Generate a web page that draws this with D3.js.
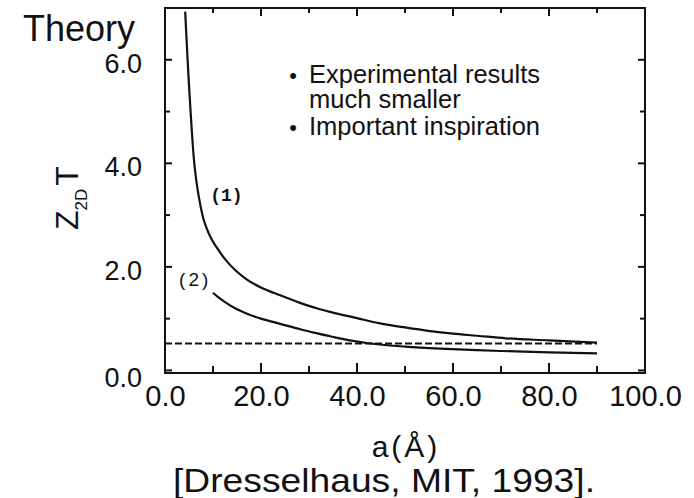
<!DOCTYPE html>
<html>
<head>
<meta charset="utf-8">
<script src="https://cdn.jsdelivr.net/npm/d3@7"></script>
<style>
  body { margin: 0; background: #fff; }
  text { font-family: "Liberation Sans", Arial, sans-serif; fill: #111; }
</style>
</head>
<body>
<svg id="chart" width="694" height="498"></svg>
<script>
// curve (1): Z2D T vs a (Å)
const a1 = [4.2, 4.6, 5.0, 5.5, 6.0, 6.5, 7.0, 7.5, 8.0, 8.7, 9.5, 10.8, 12.5, 14.6, 17, 20, 24, 28, 31.6, 34.4, 40, 44.8, 50, 55.2, 60, 65, 71, 80, 90]
const zt1 = [6.93, 6.2, 5.5, 4.75, 4.1, 3.68, 3.38, 3.13, 2.93, 2.74, 2.57, 2.37, 2.15, 1.94, 1.76, 1.6, 1.45, 1.31, 1.2, 1.13, 1.01, 0.91, 0.83, 0.76, 0.71, 0.67, 0.62, 0.58, 0.535]
// curve (2)
const a2 = [10, 11, 12.5, 15, 17.5, 20, 24, 28, 31, 34.4, 38.5, 42, 44.8, 50, 57.3, 65, 70, 80, 90]
const zt2 = [1.5, 1.42, 1.32, 1.18, 1.08, 1.0, 0.9, 0.8, 0.73, 0.66, 0.58, 0.53, 0.5, 0.46, 0.42, 0.39, 0.375, 0.35, 0.33]
// dashed reference level
const refLevel = 0.52
const refRange = [0, 90]

const xTicksMajor = [0, 20, 40, 60, 80, 100]
const xTicksMinor = [10, 30, 50, 70, 90]
const yTicksMajor = [0, 2, 4, 6]
const yTicksMinor = [1, 3, 5]
const notes = [["•", "Experimental results"], ["", "much smaller"], ["•", "Important inspiration"]]

const svg = d3.select("#chart")
const pLeft = 165, pRight = 645, pTop = 8, pBottom = 373

const x = d3.scaleLinear().domain([0, 100]).range([pLeft, pRight])
const y = d3.scaleLinear().domain([-0.05, 7.0]).range([pBottom, pTop])

const line = d3.line()
    .x(d => x(d[0]))
    .y(d => y(d[1]))
    .curve(d3.curveMonotoneX)

// inward ticks on all four sides
function xTicks(values, len) {
    svg.append("g").selectAll("line").data(values).join("line")
        .attr("x1", d => x(d)).attr("x2", d => x(d))
        .attr("y1", pBottom).attr("y2", pBottom - len)
        .attr("stroke", "#111").attr("stroke-width", 2)
    svg.append("g").selectAll("line").data(values).join("line")
        .attr("x1", d => x(d)).attr("x2", d => x(d))
        .attr("y1", pTop).attr("y2", pTop + len - 2)
        .attr("stroke", "#111").attr("stroke-width", 2)
}
function yTicks(values, len) {
    svg.append("g").selectAll("line").data(values).join("line")
        .attr("y1", d => y(d)).attr("y2", d => y(d))
        .attr("x1", pLeft).attr("x2", pLeft + len)
        .attr("stroke", "#111").attr("stroke-width", 2)
    svg.append("g").selectAll("line").data(values).join("line")
        .attr("y1", d => y(d)).attr("y2", d => y(d))
        .attr("x1", pRight).attr("x2", pRight - len)
        .attr("stroke", "#111").attr("stroke-width", 2)
}
xTicks(xTicksMinor, 7)
xTicks(xTicksMajor, 10)
yTicks(yTicksMinor, 5)
yTicks(yTicksMajor, 7)

// tick labels
svg.append("g")
    .attr("transform", `translate(0,${pBottom})`)
    .call(d3.axisBottom(x).tickValues(xTicksMajor).tickSize(0).tickPadding(12).tickFormat(d3.format(".1f")))
    .call(g => g.select(".domain").remove())
    .selectAll("text")
    .style("font-size", "29px")
    .attr("fill", "#111")

svg.append("g")
    .attr("transform", `translate(${pLeft},0)`)
    .call(d3.axisLeft(y).tickValues(yTicksMajor).tickSize(0).tickPadding(23).tickFormat(d3.format(".1f")))
    .call(g => g.select(".domain").remove())
    .selectAll("text")
    .style("font-size", "27px")
    .attr("fill", "#111")
    .attr("dy", d => d === 0 ? "0.6em" : "0.46em")

// frame
svg.append("rect")
    .attr("x", pLeft).attr("y", pTop)
    .attr("width", pRight - pLeft).attr("height", pBottom - pTop)
    .attr("fill", "none")
    .attr("stroke", "#111")
    .attr("stroke-width", 2)

// dashed line
svg.append("path")
    .datum(refRange.map(a => [a, refLevel]))
    .attr("d", line)
    .attr("fill", "none")
    .attr("stroke", "#111")
    .attr("stroke-width", 2)
    .attr("stroke-dasharray", "7,3")

// curves
svg.append("path")
    .datum(a1.map((a, i) => [a, zt1[i]]))
    .attr("d", line)
    .attr("fill", "none")
    .attr("stroke", "#111")
    .attr("stroke-width", 2.2)

svg.append("path")
    .datum(a2.map((a, i) => [a, zt2[i]]))
    .attr("d", line)
    .attr("fill", "none")
    .attr("stroke", "#111")
    .attr("stroke-width", 2.2)

// curve labels
svg.append("text")
    .attr("x", x(12.8)).attr("y", y(3.27))
    .attr("text-anchor", "middle")
    .style("font-family", "'Liberation Mono', monospace")
    .style("font-weight", "bold")
    .style("font-size", "18px")
    .text("(1)")

svg.append("text")
    .attr("x", x(6.3)).attr("y", y(1.63))
    .attr("text-anchor", "middle")
    .style("font-size", "19px")
    .style("letter-spacing", "3px")
    .text("(2)")

// titles
svg.append("text")
    .attr("x", 23).attr("y", 41)
    .style("font-size", "36px")
    .text("Theory")

const yTitle = svg.append("text")
    .attr("transform", "translate(78,230) rotate(-90)")
    .style("font-size", "32px")
yTitle.append("tspan").text("Z")
yTitle.append("tspan").attr("dy", 9).style("font-size", "17px").text("2D")
yTitle.append("tspan").attr("dy", -9).attr("dx", 3).text("T")

svg.append("text")
    .attr("x", 406).attr("y", 457)
    .attr("text-anchor", "middle")
    .style("font-size", "30px")
    .style("letter-spacing", "3px")
    .text("a(Å)")

svg.append("text")
    .attr("x", 173).attr("y", 492)
    .attr("textLength", 422)
    .attr("lengthAdjust", "spacingAndGlyphs")
    .style("font-size", "33px")
    .text("[Dresselhaus, MIT, 1993].")

// bullet notes
const noteG = svg.append("g")
notes.forEach((n, i) => {
    const yy = [83, 108, 135][i]
    noteG.append("text").attr("x", 293).attr("y", yy).attr("text-anchor", "middle")
        .style("font-size", "22px").text(n[0])
    noteG.append("text").attr("x", 309).attr("y", yy)
        .style("font-size", "25.5px").text(n[1])
})
</script>
</body>
</html>
